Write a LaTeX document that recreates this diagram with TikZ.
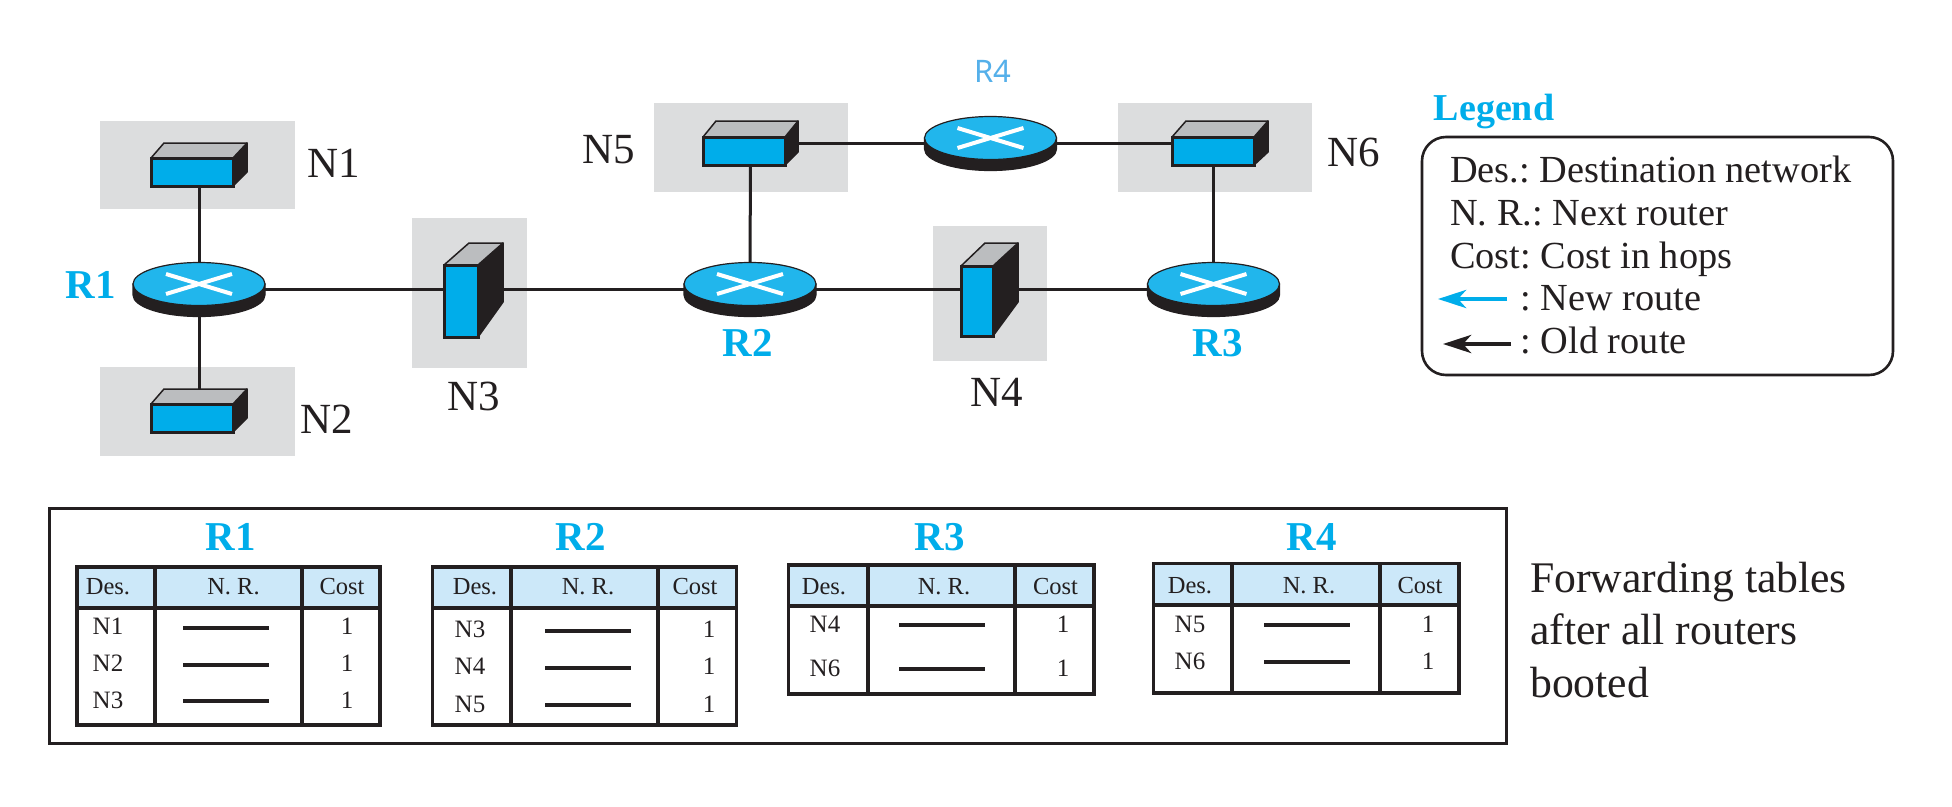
\documentclass[tikz,border=0pt]{standalone}
\usepackage{fontspec}
\setmainfont{Liberation Serif}
\newfontfamily\lblsans{Noto Sans}
\usetikzlibrary{arrows.meta,shapes.geometric}
\definecolor{ink}{HTML}{231F20}
\definecolor{cyanb}{HTML}{00ADEA}
\definecolor{rtop}{HTML}{21B6EC}
\definecolor{lid}{HTML}{BBBDBF}
\definecolor{shade}{HTML}{DCDDDE}
\definecolor{hdr}{HTML}{CCE8F9}
\definecolor{rfour}{HTML}{55B0EA}
\frenchspacing
\tikzset{
  anchorbox/.style={draw=none,fill=none,rectangle,inner sep=0pt,outer sep=0pt},
  netbg/.style={fill=shade,draw=none},
  wire/.style={draw=ink,line width=3pt},
  netlbl/.style={anchor=base,inner sep=0pt,text=ink,font=\fontsize{43}{43}\selectfont},
  rlbl/.style={anchor=base,inner sep=0pt,text=cyanb,font=\fontsize{41}{41}\selectfont\bfseries},
  leg/.style={anchor=base west,inner sep=0pt,text=ink,font=\fontsize{38.3}{38}\selectfont},
  thead/.style={anchor=base,inner sep=0pt,text=ink,font=\fontsize{24.5}{25}\selectfont},
  tcell/.style={anchor=base,inner sep=0pt,text=ink,font=\fontsize{25}{25}\selectfont},
  tline/.style={draw=ink,line width=3.5pt},
  tdash/.style={draw=ink,line width=3.4pt},
  side/.style={fill=ink,draw=ink,line width=1.5pt,line join=round},
  toplid/.style={fill=lid,draw=ink,line width=1.5pt,line join=round},
  front/.style={fill=cyanb,draw=ink,line width=3pt,line join=miter},
}
% name, front x0,y0,x1,y1, back right x, back rise, back left x, back right-bottom y
\newcommand{\netswitch}[9]{%
  \path[side] (#4,#3) -- (#6,#3-#7) -- (#6,#9) -- (#4,#5) -- cycle;
  \path[toplid] (#2,#3) -- (#8,#3-#7) -- (#6,#3-#7) -- (#4,#3) -- cycle;
  \path[front] (#2,#3) rectangle (#4,#5);
  \node[anchorbox,minimum width={(#6-#2)*1pt},minimum height={(#5-#3+#7)*1pt}] (#1) at ({(#2+#6)/2},{(#3-#7+#5)/2}) {};
}
% name, cx, top
\newcommand{\routernode}[3]{%
  \path[fill=ink,draw=ink,line width=1.2pt] (#2-66,#3+21.5) -- (#2-66,#3+32.5) arc[start angle=180,end angle=0,x radius=66,y radius=21.5] -- (#2+66,#3+21.5) -- cycle;
  \path[fill=rtop,draw=ink,line width=1.2pt] (#2,#3+21.5) ellipse[x radius=66,y radius=21.5];
  \draw[white,line width=4pt] (#2-33,#3+11.5) -- (#2+33,#3+31.5) (#2-33,#3+31.5) -- (#2+33,#3+11.5);
  \node[anchorbox,minimum width=132pt,minimum height=53pt] (#1) at (#2,#3+26.5) {};
}
% x0,x1,x2,x3, ytop,ysep,ybot
\newcommand{\fwdtable}[7]{%
  \fill[hdr] (#1,#5) rectangle (#4,#6);
  \draw[tline] (#1,#5) rectangle (#4,#7);
  \draw[tline] (#1,#6) -- (#4,#6) (#2,#5) -- (#2,#7) (#3,#5) -- (#3,#7);
}
% name, x, baseline, label, dash x0, dash x1, dash y, cost x
\newcommand{\trow}[8]{%
  \node[tcell] (#1a) at (#2,#3) {#4};
  \draw[tdash] (#5,#7) -- (#6,#7);
  \node[tcell] (#1c) at (#8,#3) {1};
}
\begin{document}
\begin{tikzpicture}[x=1pt,y=-1pt]
\useasboundingbox (0,0) rectangle (1952,806);
\fill[white] (0,0) rectangle (1952,806);
% shaded networks
\fill[netbg] (100,121) rectangle (295,209);
\fill[netbg] (100,367) rectangle (295,456);
\fill[netbg] (412,218) rectangle (527,368);
\fill[netbg] (933,226) rectangle (1047,361);
\fill[netbg] (654,103) rectangle (848,192);
\fill[netbg] (1118,103) rectangle (1312,192);
% devices
\netswitch{swN1}{151}{158}{233}{186}{247}{15}{164}{172}
\netswitch{swN2}{151}{404}{233}{432}{247}{15}{164}{418}
\netswitch{swN3}{444}{265}{478}{337}{503}{22}{469}{302}
\netswitch{swN4}{961}{266}{993}{336}{1018}{23}{985}{302}
\netswitch{swN5}{703}{137}{785}{165}{798}{16}{716}{152}
\netswitch{swN6}{1172}{137}{1254}{165}{1268}{16}{1186}{152}
\routernode{rR1}{199}{262.5}
\routernode{rR2}{750}{262.5}
\routernode{rR3}{1213.5}{262.5}
\routernode{rR4}{990.5}{116.5}
% connectors
\draw[wire] (swN1.south) -- (rR1.north);
\draw[wire] (rR1.south) -- (swN2.north);
\draw[wire] (rR1.east) -- (rR1.east -| swN3.west);
\draw[wire] (rR2.west -| swN3.east) -- (rR2.west);
\draw[wire] (rR2.east) -- (rR2.east -| swN4.west);
\draw[wire] (rR3.west -| swN4.east) -- (rR3.west);
\draw[wire] (swN5.south) -- (rR2.north);
\draw[wire] (rR3.north) -- (rR3.north |- swN6.south);
\draw[wire] (rR4.west -| swN5.east) -- (rR4.west);
\draw[wire] (rR4.east) -- (rR4.east -| swN6.west);
% labels
\node[netlbl] (lN1) at (334,177) {N1};
\node[netlbl] (lN2) at (326.5,433) {N2};
\node[netlbl] (lN3) at (473.5,410) {N3};
\node[netlbl] (lN4) at (996.5,406) {N4};
\node[netlbl] (lN5) at (608.5,163) {N5};
\node[netlbl] (lN6) at (1353.5,166) {N6};
\node[rlbl] (lR1) at (91,298) {R1};
\node[rlbl] (lR2) at (748,356) {R2};
\node[rlbl] (lR3) at (1218,356) {R3};
\node[anchor=base,inner sep=0pt,text=rfour,font=\lblsans\fontsize{31}{31}\selectfont] (lR4) at (993,82) {R4};
% legend
\node[anchor=base,inner sep=0pt,text=cyanb,font=\fontsize{38}{38}\selectfont\bfseries] (legtitle) at (1494,120) {Legend};
\draw[draw=ink,line width=2.6pt,rounded corners=24pt] (1422,137) rectangle (1893,375);
\node[leg] (leg1) at (1450,182) {Des.: Destination network};
\node[leg] (leg2) at (1450,225) {N. R.: Next router};
\node[leg] (leg3) at (1450,268) {Cost: Cost in hops};
\coordinate (newS) at (1507,299); \coordinate (newE) at (1438,299);
\coordinate (oldS) at (1511,344); \coordinate (oldE) at (1443,344);
\draw[draw=cyanb,line width=4.5pt,-{Stealth[length=28pt,width=18pt,inset=8pt]}] (newS) -- (newE);
\draw[draw=ink,line width=4.5pt,-{Stealth[length=28pt,width=18pt,inset=8pt]}] (oldS) -- (oldE);
\node[leg] (leg4) at (1520.5,310.5) {: New route};
\node[leg] (leg5) at (1520.5,353.5) {: Old route};
% table frame
\draw[draw=ink,line width=3pt] (49,508) rectangle (1506,743);
% R1
\node[rlbl] (tR1) at (231,550) {R1};
\fwdtable{77}{155}{302}{380}{567}{608}{725}
\node[thead] (a1) at (108,594) {Des.};
\node[thead] (a2) at (233.5,594) {N. R.};
\node[thead] (a3) at (342,594) {Cost};
\trow{ar1}{108}{634}{N1}{183}{269}{628}{347}
\trow{ar2}{108}{671}{N2}{183}{269}{665}{347}
\trow{ar3}{108}{708}{N3}{183}{269}{701}{347}
% R2
\node[rlbl] (tR2) at (581,550) {R2};
\fwdtable{432.5}{511}{658}{736.5}{567}{608}{725}
\node[thead] (b1) at (475,594) {Des.};
\node[thead] (b2) at (588,594) {N. R.};
\node[thead] (b3) at (695,594) {Cost};
\trow{br1}{470}{637}{N3}{545}{631}{631}{709}
\trow{br2}{470}{674}{N4}{545}{631}{668}{709}
\trow{br3}{470}{712}{N5}{545}{631}{705}{709}
% R3
\node[rlbl] (tR3) at (940,550) {R3};
\fwdtable{788.5}{868}{1015}{1094}{565}{606}{694}
\node[thead] (c1) at (824,594) {Des.};
\node[thead] (c2) at (944,594) {N. R.};
\node[thead] (c3) at (1055.5,594) {Cost};
\trow{cr1}{825}{632}{N4}{899}{985}{625}{1063}
\trow{cr2}{825}{676}{N6}{899}{985}{669}{1063}
% R4
\node[rlbl] (tR4) at (1312,550) {R4};
\fwdtable{1153.5}{1232}{1380}{1459}{563.5}{605}{693}
\node[thead] (d1) at (1190,593) {Des.};
\node[thead] (d2) at (1309,593) {N. R.};
\node[thead] (d3) at (1420,593) {Cost};
\trow{dr1}{1190}{632}{N5}{1264}{1350}{625}{1428}
\trow{dr2}{1190}{669}{N6}{1264}{1350}{662}{1428}
% caption
\node[anchor=base west,inner sep=0pt,text=ink,font=\fontsize{43.7}{44}\selectfont] (cap1) at (1530,592) {Forwarding tables};
\node[anchor=base west,inner sep=0pt,text=ink,font=\fontsize{43.7}{44}\selectfont] (cap2) at (1530,644) {after all routers};
\node[anchor=base west,inner sep=0pt,text=ink,font=\fontsize{43.7}{44}\selectfont] (cap3) at (1530,697) {booted};
\end{tikzpicture}
\end{document}
